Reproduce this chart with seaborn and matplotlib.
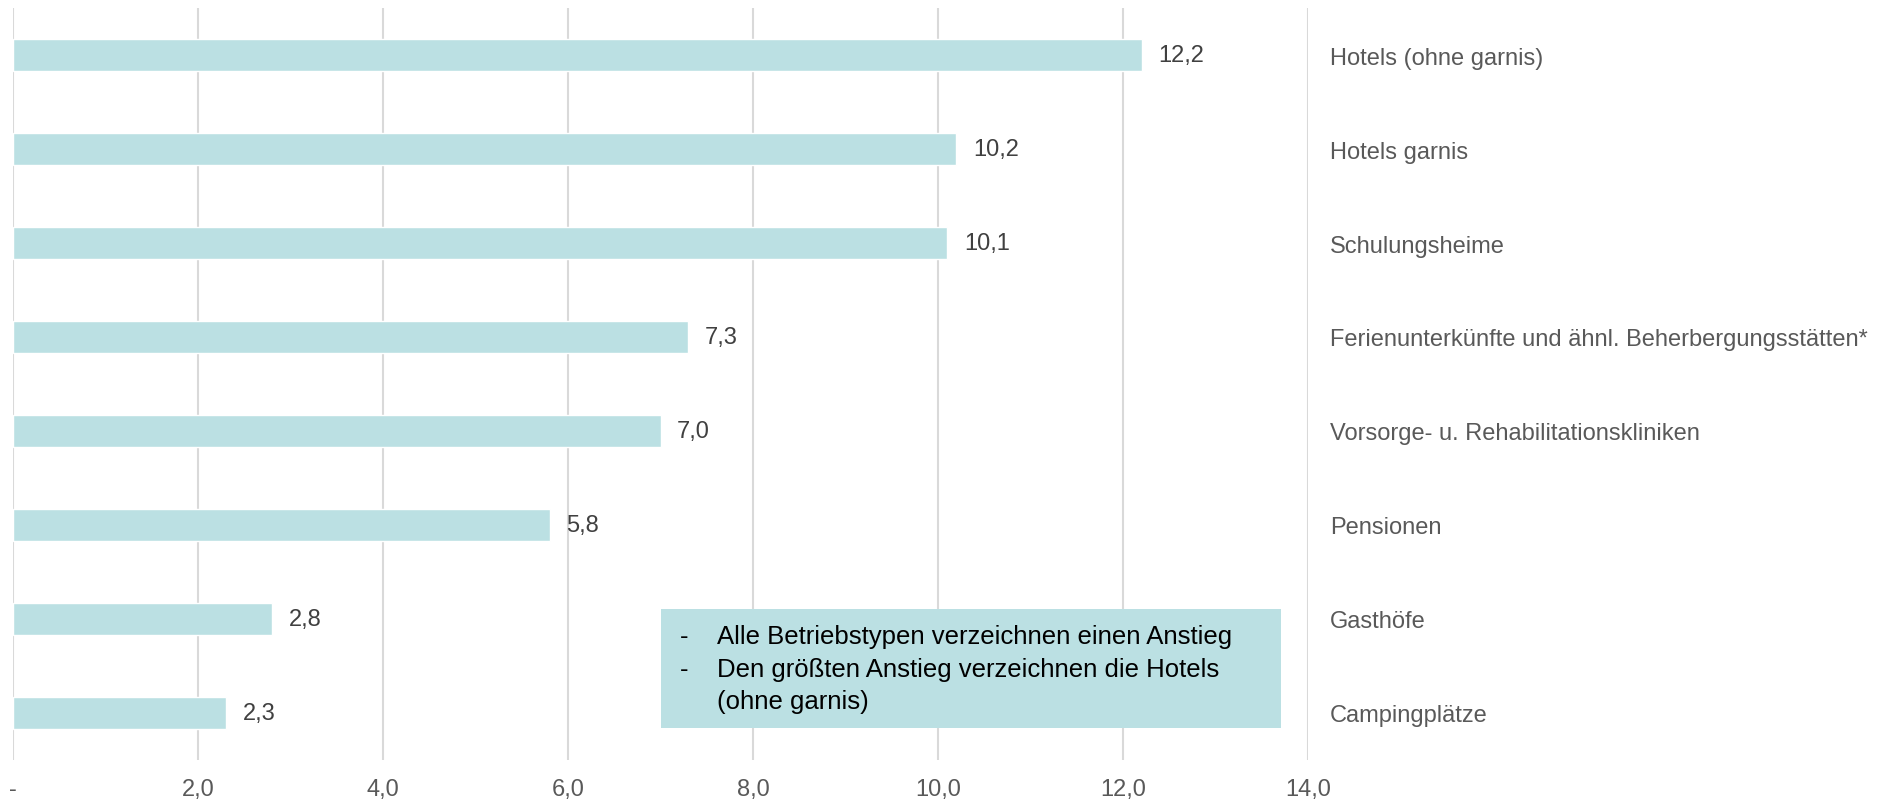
import pandas as pd
import seaborn as sns
import matplotlib.pyplot as plt
from matplotlib.patches import Rectangle

# Daten
kategorien = ['Hotels (ohne garnis)', 'Hotels garnis', 'Schulungsheime',
              'Ferienunterkünfte und ähnl. Beherbergungsstätten*',
              'Vorsorge- u. Rehabilitationskliniken', 'Pensionen',
              'Gasthöfe', 'Campingplätze']
werte = [12.2, 10.2, 10.1, 7.3, 7.0, 5.8, 2.8, 2.3]
x_ticks = [0, 2, 4, 6, 8, 10, 12, 14]
x_labels = ['-', '2,0', '4,0', '6,0', '8,0', '10,0', '12,0', '14,0']
hinweis_zeilen = [('-', 'Alle Betriebstypen verzeichnen einen Anstieg'),
                  ('-', 'Den größten Anstieg verzeichnen die Hotels'),
                  ('', '(ohne garnis)')]

df = pd.DataFrame({'kategorie': kategorien, 'wert': werte})

sns.set_style('white')
plt.rcParams['font.family'] = ['Liberation Sans', 'DejaVu Sans']

farbe = '#BBE0E3'
grau = '#595959'
fig = plt.figure(figsize=(18.8, 8.03), dpi=100)
ax = fig.add_axes([13 / 1880, 1 - 761 / 803, (1308 - 13) / 1880, (761 - 9) / 803])

sns.barplot(x='wert', y='kategorie', data=df, orient='h', color=farbe,
            saturation=1, width=0.35, ax=ax, zorder=3)

ax.set_xlim(0, 14)
ax.set_ylim(7.5, -0.5)
ax.set_xticks(x_ticks)
ax.set_xticklabels(x_labels, fontsize=17, color=grau)
ax.tick_params(axis='x', length=0, pad=13)
ax.grid(axis='x', color='#D9D9D9', linewidth=1.5, zorder=0)
for s in ax.spines.values():
    s.set_visible(False)

# Kategorien rechts
ax.yaxis.tick_right()
ax.set_yticks(range(len(kategorien)))
ax.set_yticklabels(kategorien, fontsize=17, color=grau)
ax.tick_params(axis='y', length=0, pad=16)
ax.set_xlabel('')
ax.set_ylabel('')

# Werte an den Balken
for i, v in enumerate(werte):
    ax.text(v + 0.18, i, f'{v:.1f}'.replace('.', ','), va='center', ha='left',
            fontsize=17, color='#404040')

# Hinweisbox
ax.add_patch(Rectangle((7.0, 5.894), 6.71, 1.266, facecolor=farbe,
                       edgecolor='none', zorder=4))
for (strich, zeile), y in zip(hinweis_zeilen, [6.18, 6.53, 6.87]):
    ax.text(7.21, y, strich, va='center', ha='left', fontsize=18.5,
            color='black', zorder=5)
    ax.text(7.61, y, zeile, va='center', ha='left', fontsize=18.5,
            color='black', zorder=5)

fig.savefig('out.png', dpi=100)
